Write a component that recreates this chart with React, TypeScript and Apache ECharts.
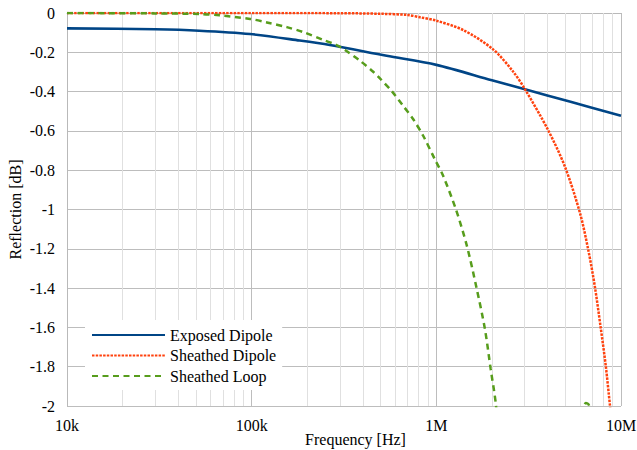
import React, { useEffect, useRef } from "react";
import * as echarts from "echarts";

// Exposed Dipole
const freqExposedDipole = [10e3, 30e3, 52e3, 98e3, 182e3, 265e3, 538e3, 1e6, 2e6, 3.02e6, 5.27e6, 10e6];
const reflExposedDipole = [-0.078, -0.083, -0.09, -0.107, -0.14, -0.163, -0.218, -0.264, -0.342, -0.388, -0.451, -0.523];

// Sheathed Dipole
const freqSheathedDipole = [10e3, 100e3, 300e3, 500e3, 700e3, 818e3, 1e6, 1.4e6, 2.03e6, 2.61e6, 3.02e6, 4.0e6, 4.97e6, 6.0e6, 6.65e6, 7.22e6, 7.75e6, 8.28e6, 8.71e6, 9.2e6];
const reflSheathedDipole = [0, 0, -0.001, -0.004, -0.01, -0.022, -0.039, -0.087, -0.185, -0.299, -0.388, -0.59, -0.782, -1.019, -1.206, -1.393, -1.596, -1.8, -1.995, -2.2];

// Sheathed Loop
const freqSheathedLoop = [10e3, 30e3, 52e3, 67e3, 98e3, 121e3, 155e3, 190e3, 244e3, 288e3, 320e3, 386e3, 455e3, 495e3, 573e3, 662e3, 750e3, 850e3, 982e3, 1.09e6, 1.277e6, 1.459e6, 1.652e6, 1.834e6, 1.968e6, 2.1e6, 2.3e6, 3e6, 4.5e6, 6.0e6, 6.3e6, 6.45e6, 6.7e6, 7.0e6, 8e6];
const reflSheathedLoop = [0, -0.002, -0.005, -0.012, -0.03, -0.048, -0.072, -0.097, -0.137, -0.163, -0.188, -0.243, -0.299, -0.333, -0.397, -0.473, -0.541, -0.626, -0.745, -0.83, -1.0, -1.18, -1.4, -1.61, -1.81, -1.99, -2.4, -4.0, -5.0, -2.3, -2.0, -1.985, -1.995, -2.1, -3.0];

const seriesNames = ["Exposed Dipole", "Sheathed Dipole", "Sheathed Loop"];
const xTickValues = [1e4, 1e5, 1e6, 1e7];
const xTickLabels = ["10k", "100k", "1M", "10M"];
const minorGridFreqs = [2e4, 3e4, 4e4, 5e4, 6e4, 7e4, 8e4, 9e4, 2e5, 3e5, 4e5, 5e5, 6e5, 7e5, 8e5, 9e5, 2e6, 3e6, 4e6, 5e6, 6e6, 7e6, 8e6, 9e6];

const FONT = "Liberation Serif, Times New Roman, DejaVu Serif, serif";

function pairs(xs: number[], ys: number[]) {
  return xs.map((x, i) => [x, ys[i]]);
}

export default function App() {
  const ref = useRef<HTMLDivElement>(null);
  useEffect(() => {
    const chart = echarts.init(ref.current!, null, { renderer: "svg" });
    const textStyle = { fontFamily: FONT, fontSize: 16, color: "#000" };
    chart.setOption({
      animation: false,
      textStyle: { fontFamily: FONT },
      grid: { left: 67, right: 16, top: 13, bottom: 44, outerBoundsMode: "none", containLabel: false },
      legend: {
        data: seriesNames,
        orient: "vertical",
        left: 85,
        top: 320,
        padding: [7, 6, 6, 6],
        itemWidth: 73,
        itemHeight: 14,
        itemGap: 4.5,
        backgroundColor: "#ffffff",
        itemStyle: { color: "rgba(0,0,0,0)", borderColor: "rgba(0,0,0,0)", borderWidth: 0, opacity: 0 },
        textStyle,
      },
      xAxis: {
        type: "log",
        logBase: 10,
        min: 1e4,
        max: 1e7,
        axisLine: { show: true, lineStyle: { color: "#b9b9b9", width: 1 } },
        axisTick: { show: false },
        axisLabel: {
          ...textStyle,
          margin: 11,
          formatter: (v: number) => {
            const i = xTickValues.findIndex((t) => Math.abs(t - v) / t < 1e-6);
            return i >= 0 ? xTickLabels[i] : "";
          },
        },
        splitLine: { show: true, lineStyle: { color: "#bdbdbd", width: 1 } },
        name: "Frequency [Hz]",
        nameLocation: "middle",
        nameGap: 25,
        nameMoveOverlap: false,
        nameTextStyle: { ...textStyle, padding: [0, 0, 0, 23] },
      },
      yAxis: {
        type: "value",
        min: -2,
        max: 0,
        interval: 0.2,
        axisLine: { show: true, lineStyle: { color: "#b9b9b9", width: 1 } },
        axisTick: { show: false },
        axisLabel: { ...textStyle, margin: 12 },
        splitLine: { show: true, lineStyle: { color: "#bdbdbd", width: 1 } },
        name: "Reflection [dB]",
        nameLocation: "middle",
        nameGap: 44,
        nameMoveOverlap: false,
        nameTextStyle: textStyle,
      },
      series: [
        {
          name: "_minor",
          type: "line",
          data: [],
          z: 1,
          silent: true,
          markLine: {
            silent: true,
            z: 1,
            symbol: ["none", "none"],
            label: { show: false },
            lineStyle: { color: "#e0e0e0", width: 1, type: "solid" },
            data: minorGridFreqs.map((f) => ({ xAxis: f })),
          },
        },
        {
          name: seriesNames[0],
          type: "line",
          data: pairs(freqExposedDipole, reflExposedDipole),
          showSymbol: false,
          symbol: "none",
          smooth: 0.3,
          color: "#004586",
          lineStyle: { color: "#004586", width: 2.6, type: "solid" },
          z: 3,
        },
        {
          name: seriesNames[1],
          type: "line",
          data: pairs(freqSheathedDipole, reflSheathedDipole),
          showSymbol: false,
          symbol: "none",
          smooth: 0.3,
          color: "#ff420e",
          lineStyle: { color: "#ff420e", width: 2.5, type: [2.5, 1.2], cap: "butt" },
          z: 3,
        },
        {
          name: seriesNames[2],
          type: "line",
          data: pairs(freqSheathedLoop, reflSheathedLoop),
          showSymbol: false,
          symbol: "none",
          smooth: 0.3,
          color: "#579d1c",
          lineStyle: { color: "#579d1c", width: 2.5, type: [6, 4.5], cap: "butt" },
          z: 3,
        },
      ],
    });
    return () => chart.dispose();
  }, []);
  return (
    <div
      ref={ref}
      style={{ position: "fixed", left: 0, top: 0, width: 637, height: 450, background: "#fff" }}
    />
  );
}
